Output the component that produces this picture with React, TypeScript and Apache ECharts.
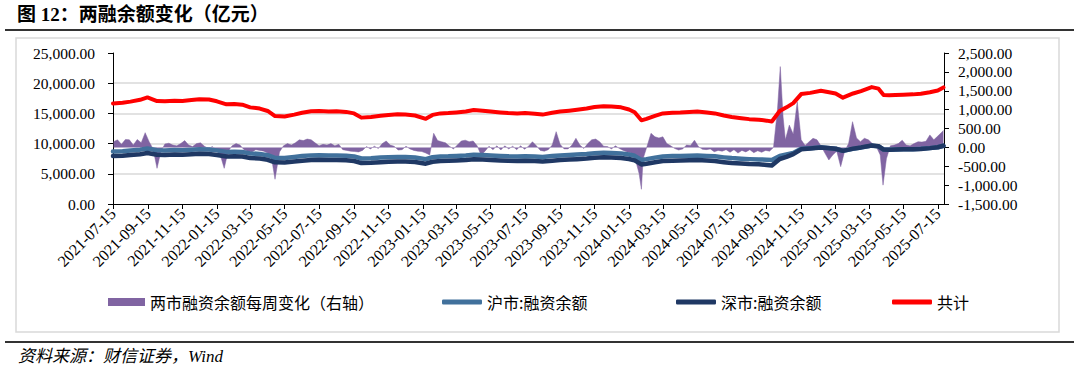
import React, { useEffect, useRef } from 'react';
import * as echarts from 'echarts';

// ---------- data ----------
const AXIS_START = '2021-07-15';
const AXIS_END = '2025-07-26';

const lineDates: string[] = [
  '2021-07-15', '2021-08-01', '2021-08-15', '2021-09-01', '2021-09-14', '2021-10-01', '2021-10-15', '2021-11-01', '2021-11-15', '2021-12-01',
  '2021-12-15', '2022-01-01', '2022-01-15', '2022-02-01', '2022-02-15', '2022-03-01', '2022-03-15', '2022-04-01', '2022-04-15', '2022-04-28',
  '2022-05-15', '2022-06-01', '2022-06-15', '2022-07-01', '2022-07-15', '2022-08-01', '2022-08-15', '2022-09-01', '2022-09-15', '2022-09-28',
  '2022-10-15', '2022-11-01', '2022-11-15', '2022-12-01', '2022-12-15', '2023-01-01', '2023-01-20', '2023-02-01', '2023-02-15', '2023-03-01',
  '2023-03-15', '2023-04-01', '2023-04-15', '2023-05-01', '2023-05-15', '2023-06-01', '2023-06-15', '2023-07-01', '2023-07-15', '2023-08-01',
  '2023-08-15', '2023-09-01', '2023-09-15', '2023-10-01', '2023-10-15', '2023-11-01', '2023-11-15', '2023-12-01', '2023-12-15', '2024-01-01',
  '2024-01-15', '2024-01-25', '2024-02-06', '2024-02-15', '2024-03-01', '2024-03-15', '2024-04-01', '2024-04-15', '2024-05-01', '2024-05-15',
  '2024-06-01', '2024-06-15', '2024-07-01', '2024-07-15', '2024-08-01', '2024-08-15', '2024-09-01', '2024-09-15', '2024-09-24', '2024-10-08',
  '2024-10-20', '2024-11-01', '2024-11-15', '2024-12-01', '2024-12-20', '2025-01-01', '2025-01-15', '2025-01-28', '2025-02-15', '2025-03-01',
  '2025-03-20', '2025-04-01', '2025-04-10', '2025-04-20', '2025-05-01', '2025-05-15', '2025-06-01', '2025-06-15', '2025-07-01', '2025-07-15',
  '2025-07-25',
];

const totalValues: number[] = [
  16650, 16750, 16950, 17250, 17650, 17050, 17000, 17100, 17050, 17200,
  17350, 17300, 17000, 16500, 16550, 16450, 16000, 15800, 15400, 14550,
  14500, 14800, 15100, 15350, 15400, 15300, 15350, 15250, 15000, 14300,
  14400, 14600, 14750, 14850, 14800, 14650, 14100, 14750, 15000, 15050,
  15150, 15300, 15550, 15450, 15300, 15150, 15050, 15000, 15050, 14950,
  14800, 15100, 15300, 15450, 15600, 15800, 16050, 16200, 16150, 16000,
  15650, 15200, 13850, 14100, 14600, 15000, 15100, 15150, 15250, 15300,
  15150, 15000, 14650, 14400, 14200, 14050, 13950, 13800, 13650, 15400,
  16000, 16700, 18200, 18400, 18750, 18550, 18300, 17600, 18300, 18700,
  19350, 19100, 18050, 18000, 18050, 18100, 18150, 18250, 18500, 18800,
  19300,
];

const shValues: number[] = [
  8700, 8750, 8850, 9000, 9200, 8900, 8870, 8920, 8900, 8980,
  9050, 9030, 8880, 8630, 8650, 8600, 8380, 8280, 8080, 7650,
  7630, 7780, 7930, 8050, 8080, 8030, 8050, 8000, 7880, 7530,
  7580, 7680, 7750, 7800, 7780, 7700, 7430, 7750, 7880, 7900,
  7950, 8030, 8150, 8100, 8030, 7950, 7900, 7880, 7900, 7850,
  7780, 7930, 8030, 8100, 8180, 8280, 8400, 8480, 8450, 8380,
  8200, 7980, 7300, 7430, 7680, 7880, 7930, 7950, 8000, 8030,
  7960, 7890, 7720, 7600, 7500, 7430, 7380, 7330, 7280, 7950,
  8200, 8450, 9150, 9220, 9380, 9280, 9150, 8800, 9130, 9330,
  9660, 9540, 9030, 9000, 9030, 9050, 9080, 9130, 9250, 9400,
  9650,
];

const szValues: number[] = [
  7950, 8000, 8100, 8250, 8450, 8150, 8130, 8180, 8150, 8220,
  8300, 8270, 8120, 7870, 7900, 7850, 7620, 7520, 7320, 6900,
  6870, 7020, 7170, 7300, 7320, 7270, 7300, 7250, 7120, 6770,
  6820, 6920, 7000, 7050, 7020, 6950, 6670, 7000, 7120, 7150,
  7200, 7270, 7400, 7350, 7270, 7200, 7150, 7120, 7150, 7100,
  7020, 7170, 7270, 7350, 7420, 7520, 7650, 7720, 7700, 7620,
  7450, 7220, 6550, 6670, 6920, 7120, 7170, 7200, 7250, 7270,
  7190, 7110, 6930, 6800, 6700, 6620, 6570, 6470, 6370, 7450,
  7800, 8250, 9050, 9180, 9370, 9270, 9150, 8800, 9170, 9370,
  9690, 9560, 9020, 9000, 9020, 9050, 9070, 9120, 9250, 9400,
  9650,
];

// weekly change of total financing balance (right axis)
const weeklyChange: [string, number][] = [
  ['2021-07-16', 150], ['2021-07-23', 200], ['2021-07-30', 80], ['2021-08-06', 210], ['2021-08-13', 200],
  ['2021-08-20', 60], ['2021-08-27', 210], ['2021-09-03', 120], ['2021-09-10', 390], ['2021-09-17', 150],
  ['2021-09-24', -40], ['2021-10-01', -555], ['2021-10-08', -100], ['2021-10-15', 90], ['2021-10-22', 110],
  ['2021-10-29', 60], ['2021-11-05', 40], ['2021-11-12', 100], ['2021-11-19', 180], ['2021-11-26', 60],
  ['2021-12-03', 20], ['2021-12-10', 100], ['2021-12-17', 120], ['2021-12-24', 30], ['2021-12-31', -30],
  ['2022-01-07', 20], ['2022-01-14', -80], ['2022-01-21', -200], ['2022-01-28', -555], ['2022-02-04', -100],
  ['2022-02-11', 40], ['2022-02-18', 100], ['2022-02-25', 60], ['2022-03-04', -60], ['2022-03-11', -100],
  ['2022-03-18', -120], ['2022-03-25', -60], ['2022-04-01', -80], ['2022-04-08', -100], ['2022-04-15', -150],
  ['2022-04-22', -300], ['2022-04-28', -845], ['2022-05-06', -120], ['2022-05-13', 40], ['2022-05-20', 100],
  ['2022-05-27', 60], ['2022-06-03', 120], ['2022-06-10', 200], ['2022-06-17', 180], ['2022-06-24', 220],
  ['2022-07-01', 200], ['2022-07-08', 120], ['2022-07-15', 40], ['2022-07-22', 80], ['2022-07-29', 60],
  ['2022-08-05', 100], ['2022-08-12', 40], ['2022-08-19', 80], ['2022-08-26', -60], ['2022-09-02', -80],
  ['2022-09-09', -100], ['2022-09-16', -110], ['2022-09-23', -120], ['2022-09-30', -80], ['2022-10-07', 20],
  ['2022-10-14', -40], ['2022-10-21', 30], ['2022-10-28', -30], ['2022-11-04', 100], ['2022-11-11', 170],
  ['2022-11-18', 60], ['2022-11-25', 30], ['2022-12-02', -70], ['2022-12-09', -60], ['2022-12-16', 30],
  ['2022-12-23', -40], ['2022-12-30', -80], ['2023-01-06', -100], ['2023-01-13', -110], ['2023-01-20', -150],
  ['2023-01-27', -200], ['2023-02-03', 373], ['2023-02-10', 180], ['2023-02-17', 150], ['2023-02-24', 120],
  ['2023-03-03', 30], ['2023-03-10', -40], ['2023-03-17', 60], ['2023-03-24', 170], ['2023-03-31', 190],
  ['2023-04-07', 150], ['2023-04-14', 170], ['2023-04-21', 40], ['2023-04-28', -200], ['2023-05-05', -100],
  ['2023-05-12', 30], ['2023-05-19', -60], ['2023-05-26', 40], ['2023-06-02', -70], ['2023-06-09', 40],
  ['2023-06-16', -40], ['2023-06-23', 30], ['2023-06-30', -60], ['2023-07-07', 40], ['2023-07-14', -50],
  ['2023-07-21', 30], ['2023-07-28', 150], ['2023-08-04', 40], ['2023-08-11', -80], ['2023-08-18', -100],
  ['2023-08-25', -60], ['2023-09-01', 60], ['2023-09-08', 416], ['2023-09-15', 80], ['2023-09-22', -40],
  ['2023-09-29', -40], ['2023-10-06', 60], ['2023-10-13', 240], ['2023-10-20', 60], ['2023-10-27', -30],
  ['2023-11-03', 100], ['2023-11-10', 200], ['2023-11-17', 220], ['2023-11-24', 150], ['2023-12-01', 30],
  ['2023-12-08', 20], ['2023-12-15', -40], ['2023-12-22', 40], ['2023-12-29', -30], ['2024-01-05', -80],
  ['2024-01-12', -120], ['2024-01-19', -150], ['2024-01-26', -300], ['2024-02-02', -700], ['2024-02-06', -1110],
  ['2024-02-09', -300], ['2024-02-16', 30], ['2024-02-23', 373], ['2024-03-01', 280], ['2024-03-08', 250],
  ['2024-03-15', 280], ['2024-03-22', 100], ['2024-03-29', 40], ['2024-04-05', -30], ['2024-04-12', -70],
  ['2024-04-19', -40], ['2024-04-26', 60], ['2024-05-03', 50], ['2024-05-10', 190], ['2024-05-17', 20],
  ['2024-05-24', -50], ['2024-05-31', -60], ['2024-06-07', -40], ['2024-06-14', -115], ['2024-06-21', -80],
  ['2024-06-28', -100], ['2024-07-05', -60], ['2024-07-12', -130], ['2024-07-19', -60], ['2024-07-26', -150],
  ['2024-08-02', -80], ['2024-08-09', -120], ['2024-08-16', -60], ['2024-08-23', -140], ['2024-08-30', -90],
  ['2024-09-06', -130], ['2024-09-13', -80], ['2024-09-20', -100], ['2024-09-27', 0], ['2024-10-04', 1000],
  ['2024-10-09', 2140], ['2024-10-14', 800], ['2024-10-18', 200], ['2024-10-25', 590], ['2024-11-01', 350],
  ['2024-11-08', 1210], ['2024-11-15', 200], ['2024-11-22', 50], ['2024-11-29', 150], ['2024-12-06', 240],
  ['2024-12-13', 200], ['2024-12-20', 40], ['2024-12-27', -150], ['2025-01-03', -335], ['2025-01-10', -200],
  ['2025-01-17', -100], ['2025-01-24', -510], ['2025-01-31', -100], ['2025-02-07', 100], ['2025-02-14', 680],
  ['2025-02-21', 250], ['2025-02-28', 150], ['2025-03-07', 240], ['2025-03-14', 200], ['2025-03-21', 100],
  ['2025-03-28', 20], ['2025-04-04', -200], ['2025-04-09', -1000], ['2025-04-15', -300], ['2025-04-22', 40],
  ['2025-04-29', 60], ['2025-05-06', 100], ['2025-05-13', 190], ['2025-05-20', 60], ['2025-05-27', 40],
  ['2025-06-03', 100], ['2025-06-10', 150], ['2025-06-17', 140], ['2025-06-24', 160], ['2025-07-01', 330],
  ['2025-07-08', 200], ['2025-07-15', 300], ['2025-07-22', 400], ['2025-07-25', 450],
];

const SERIES_NAMES = ['两市融资余额每周变化（右轴）', '沪市:融资余额', '深市:融资余额', '共计'];
const TITLE = '图 12：两融余额变化（亿元）';
const SOURCE = '资料来源：财信证券，Wind';

// ---------- helpers ----------
function toUTC(s: string) {
  const [y, m, d] = s.split('-').map(Number);
  return Date.UTC(y, m - 1, d);
}
const DAY = 86400000;
const startMs = toUTC(AXIS_START);
function dayIndex(s: string) {
  return Math.round((toUTC(s) - startMs) / DAY);
}
function buildCategories(): string[] {
  const out: string[] = [];
  const end = toUTC(AXIS_END);
  for (let t = startMs; t <= end; t += DAY) {
    const dt = new Date(t);
    const y = dt.getUTCFullYear();
    const m = String(dt.getUTCMonth() + 1).padStart(2, '0');
    const d = String(dt.getUTCDate()).padStart(2, '0');
    out.push(`${y}-${m}-${d}`);
  }
  return out;
}
const isLabelDay = (_i: number, v: string) => /-(01|03|05|07|09|11)-15$/.test(v);
const fmt = (v: number) =>
  v.toLocaleString('en-US', { minimumFractionDigits: 2, maximumFractionDigits: 2 });

const SERIF = '"Liberation Serif", "Times New Roman", serif';
const CJK = '"Noto Sans CJK SC", sans-serif';

export default function App() {
  const ref = useRef<HTMLDivElement>(null);

  useEffect(() => {
    document.body.style.margin = '0';
    const chart = echarts.init(ref.current!, null, { renderer: 'svg' });
    const categories = buildCategories();
    const pairs = (vals: number[]) => lineDates.map((d, i) => [dayIndex(d), vals[i]]);

    const legendBase = {
      top: 289,
      textStyle: { fontSize: 16, fontFamily: CJK, color: '#000' },
      itemGap: 0,
      selectedMode: false,
    };

    const option: any = {
      animation: false,
      backgroundColor: '#ffffff',
      grid: { left: 113, right: 135, top: 53, bottom: 169 },
      xAxis: {
        type: 'category',
        data: categories,
        boundaryGap: false,
        axisLine: { onZero: false, lineStyle: { color: '#000', width: 1 } },
        axisTick: { show: true, interval: isLabelDay, length: 5, lineStyle: { color: '#000' } },
        axisLabel: {
          interval: isLabelDay,
          rotate: 45,
          margin: 7,
          fontSize: 16,
          fontFamily: SERIF,
          color: '#000',
        },
        splitLine: { show: false },
      },
      yAxis: [
        {
          type: 'value',
          position: 'left',
          min: 0,
          max: 25000,
          interval: 5000,
          axisLine: { show: true, lineStyle: { color: '#000', width: 1 } },
          axisTick: { show: true, length: 5, lineStyle: { color: '#000' } },
          axisLabel: { formatter: fmt, margin: 18, fontSize: 15.5, fontFamily: SERIF, color: '#000' },
          splitLine: {
            show: true,
            showMinLine: false,
            showMaxLine: false,
            lineStyle: { color: '#D9D9D9', width: 1.5 },
          },
        },
        {
          type: 'value',
          position: 'right',
          min: -1500,
          max: 2500,
          interval: 500,
          axisLine: { show: true, lineStyle: { color: '#000', width: 1 } },
          axisTick: { show: true, length: 5, lineStyle: { color: '#000' } },
          axisLabel: { formatter: fmt, margin: 14, fontSize: 15.5, fontFamily: SERIF, color: '#000' },
          splitLine: { show: false },
        },
      ],
      legend: [
        {
          ...legendBase,
          left: 103,
          itemWidth: 37,
          itemHeight: 8,
          data: [{ name: SERIES_NAMES[0], icon: 'rect' }],
        },
        {
          ...legendBase,
          left: 437,
          itemWidth: 40,
          itemHeight: 5,
          data: [{ name: SERIES_NAMES[1], icon: 'roundRect' }],
        },
        {
          ...legendBase,
          left: 671,
          itemWidth: 40,
          itemHeight: 5,
          data: [{ name: SERIES_NAMES[2], icon: 'roundRect' }],
        },
        {
          ...legendBase,
          left: 887,
          itemWidth: 40,
          itemHeight: 5,
          data: [{ name: SERIES_NAMES[3], icon: 'roundRect' }],
        },
      ],
      series: [
        {
          name: SERIES_NAMES[0],
          type: 'line',
          yAxisIndex: 1,
          data: weeklyChange.map(([d, v]) => [dayIndex(d), v]),
          showSymbol: false,
          symbol: 'none',
          color: '#8064A2',
          lineStyle: { width: 0.5, color: '#8064A2' },
          areaStyle: { color: '#8064A2', opacity: 1 },
          z: 1,
        },
        {
          name: SERIES_NAMES[1],
          type: 'line',
          yAxisIndex: 0,
          data: pairs(shValues),
          showSymbol: false,
          symbol: 'none',
          color: '#41719C',
          lineStyle: { width: 4.5, color: '#41719C', cap: 'round', join: 'round' },
          z: 2,
        },
        {
          name: SERIES_NAMES[2],
          type: 'line',
          yAxisIndex: 0,
          data: pairs(szValues),
          showSymbol: false,
          symbol: 'none',
          color: '#1F3864',
          lineStyle: { width: 4.5, color: '#1F3864', cap: 'round', join: 'round' },
          z: 3,
        },
        {
          name: SERIES_NAMES[3],
          type: 'line',
          yAxisIndex: 0,
          data: pairs(totalValues),
          showSymbol: false,
          symbol: 'none',
          color: '#FF0000',
          lineStyle: { width: 4, color: '#FF0000', cap: 'round', join: 'round' },
          z: 4,
        },
      ],
      graphic: [
        {
          type: 'text',
          left: 17,
          top: 5,
          style: {
            text: TITLE,
            fontSize: 19,
            fontWeight: 'bold',
            fontFamily: `"Liberation Serif", ${CJK}`,
            fill: '#000',
          },
        },
        {
          type: 'line',
          shape: { x1: 5, y1: 30, x2: 1074, y2: 30 },
          style: { stroke: '#333', lineWidth: 2 },
        },
        {
          type: 'rect',
          shape: { x: 16, y: 38, width: 1043, height: 294 },
          style: { fill: 'none', stroke: '#D9D9D9', lineWidth: 1.5 },
          z: -1,
        },
        {
          type: 'line',
          shape: { x1: 5, y1: 342, x2: 1074, y2: 342 },
          style: { stroke: '#333', lineWidth: 2 },
        },
        {
          type: 'text',
          left: 18,
          top: 348,
          style: {
            text: SOURCE,
            fontSize: 17,
            fontStyle: 'italic',
            fontFamily: `"Liberation Serif", ${CJK}`,
            fill: '#000',
          },
        },
      ],
    };

    chart.setOption(option);
    return () => chart.dispose();
  }, []);

  return <div ref={ref} style={{ width: 1079, height: 373 }} />;
}
